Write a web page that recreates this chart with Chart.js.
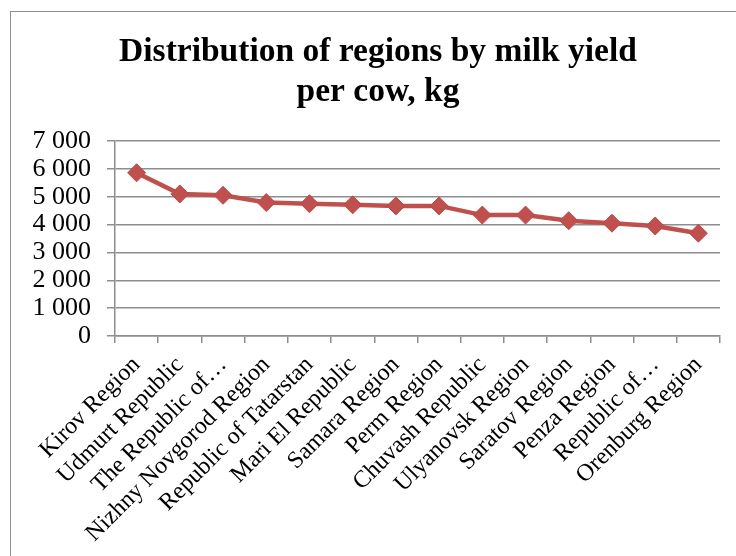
<!DOCTYPE html>
<html>
<head>
<meta charset="utf-8">
<script src="https://cdn.jsdelivr.net/npm/chart.js@4/dist/chart.umd.min.js"></script>
<style>
  html, body { margin: 0; padding: 0; background: #ffffff; overflow: hidden; }
  #frame {
    position: absolute; left: 10px; top: 11px; width: 1000px; height: 1000px;
    border: 1px solid #8e8e8e; box-sizing: border-box;
  }
  #wrap { position: absolute; left: 0; top: 0; width: 736px; height: 556px; }
</style>
</head>
<body>
<div id="frame"></div>
<div id="wrap"><canvas id="chart" width="736" height="556"></canvas></div>
<script>
// Regions and average milk yield per cow, kg
const regions = [
  "Kirov Region",
  "Udmurt Republic",
  "The Republic of\u2026",
  "Nizhny Novgorod Region",
  "Republic of Tatarstan",
  "Mari El Republic",
  "Samara Region",
  "Perm Region",
  "Chuvash Republic",
  "Ulyanovsk Region",
  "Saratov Region",
  "Penza Region",
  "Republic of\u2026",
  "Orenburg Region"
];
const milkYield = [5860, 5100, 5050, 4790, 4750, 4710, 4670, 4670, 4340, 4340, 4140, 4050, 3950, 3690];
const yTicks = [0, 1000, 2000, 3000, 4000, 5000, 6000, 7000];

const titleLines = ["Distribution of regions by milk yield", "per cow, kg"];
const serif = "'Liberation Serif', 'Times New Roman', serif";
const gridColor = "#8e8e8e";

function spaced(v) {
  return String(v).replace(/\B(?=(\d{3})+(?!\d))/g, " ");
}

// centre the title over the framed chart rather than over the padded canvas
const titleOffset = {
  id: "titleOffset",
  afterLayout(chart) {
    if (chart.titleBlock) chart.titleBlock.left = 36;
  }
};

new Chart(document.getElementById("chart"), {
  type: "line",
  data: {
    labels: regions,
    datasets: [{
      data: milkYield,
      borderColor: "#C0504D",
      backgroundColor: "#C0504D",
      borderWidth: 4.5,
      pointStyle: "rectRot",
      pointRadius: 9,
      pointHoverRadius: 9,
      pointBorderWidth: 1,
      pointBorderColor: "#B94A47",
      pointBackgroundColor: "#C0504D",
      tension: 0,
      fill: false
    }]
  },
  plugins: [titleOffset],
  options: {
    responsive: false,
    animation: false,
    devicePixelRatio: 1,
    layout: { padding: { left: 0, right: 16, top: 0, bottom: 0 } },
    plugins: {
      legend: { display: false },
      tooltip: { enabled: false },
      title: {
        display: true,
        text: titleLines,
        color: "#000000",
        font: { family: serif, size: 33.5, weight: "bold", lineHeight: 1.194 },
        padding: { top: 32, bottom: 29 }
      }
    },
    scales: {
      x: {
        type: "category",
        offset: true,
        afterFit(scale) { scale.height = 220; },
        grid: {
          offset: true,
          drawOnChartArea: false,
          drawTicks: true,
          tickLength: 7,
          color: gridColor,
          lineWidth: 1.5
        },
        border: { display: true, color: gridColor, width: 1.5 },
        ticks: {
          autoSkip: false,
          maxRotation: 45,
          minRotation: 45,
          padding: 8,
          color: "#000000",
          font: { family: serif, size: 24 }
        }
      },
      y: {
        min: 0,
        max: 7000,
        afterFit(scale) { scale.width = 115; },
        afterBuildTicks(scale) { scale.ticks = yTicks.map(v => ({ value: v })); },
        grid: {
          drawTicks: true,
          tickLength: 8,
          color: gridColor,
          lineWidth: 1.5
        },
        border: { display: true, color: gridColor, width: 1.5 },
        ticks: {
          autoSkip: false,
          padding: 16,
          color: "#000000",
          font: { family: serif, size: 26 },
          callback: (v) => spaced(v)
        }
      }
    }
  }
});
</script>
</body>
</html>
